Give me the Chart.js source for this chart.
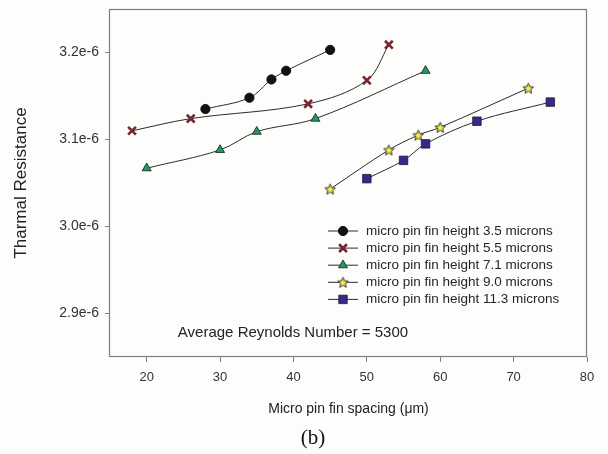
<!DOCTYPE html>
<html>
<head>
<meta charset="utf-8">
<script src="https://cdn.jsdelivr.net/npm/chart.js@4"></script>
<style>
  html, body { margin: 0; padding: 0; background: #fdfdfb; }
  #wrap { width: 608px; height: 454px; }
</style>
</head>
<body>
<div id="wrap"><canvas id="chart" width="608" height="454"></canvas></div>
<script>
// values (spacing in microns, resistance)
const spacing35 = [28, 34, 37, 39, 45];
const res35 = [3.135e-6, 3.148e-6, 3.169e-6, 3.179e-6, 3.203e-6];
const spacing55 = [18, 26, 42, 50, 53];
const res55 = [3.110e-6, 3.124e-6, 3.141e-6, 3.168e-6, 3.209e-6];
const spacing71 = [20, 30, 35, 43, 58];
const res71 = [3.067e-6, 3.088e-6, 3.109e-6, 3.124e-6, 3.179e-6];
const spacing90 = [45, 53, 57, 60, 72];
const res90 = [3.043e-6, 3.088e-6, 3.105e-6, 3.114e-6, 3.159e-6];
const spacing113 = [50, 55, 58, 65, 75];
const res113 = [3.055e-6, 3.076e-6, 3.095e-6, 3.121e-6, 3.143e-6];

const seriesLabels = [
  'micro pin fin height 3.5 microns',
  'micro pin fin height 5.5 microns',
  'micro pin fin height 7.1 microns',
  'micro pin fin height 9.0 microns',
  'micro pin fin height 11.3 microns'
];
const xTicks = [20, 30, 40, 50, 60, 70, 80];
const yTicks = [2.9e-6, 3.0e-6, 3.1e-6, 3.2e-6];
const yTickLabels = ['2.9e-6', '3.0e-6', '3.1e-6', '3.2e-6'];

function pts(xs, ys) {
  return xs.map((x, i) => ({x: x, y: ys[i]}));
}

// filled five point star, Chart.js has no such point style
function makeStar() {
  const c = document.createElement('canvas');
  c.width = 13; c.height = 13;
  const g = c.getContext('2d');
  g.beginPath();
  for (let i = 0; i < 10; i++) {
    const r = i % 2 === 0 ? 5.6 : 2.5;
    const a = -Math.PI / 2 + i * Math.PI / 5;
    const px = 6.5 + r * Math.cos(a), py = 7 + r * Math.sin(a);
    if (i === 0) g.moveTo(px, py); else g.lineTo(px, py);
  }
  g.closePath();
  g.fillStyle = '#f1ee4a';
  g.fill();
  g.strokeStyle = '#333';
  g.lineWidth = 1;
  g.stroke();
  return c;
}
const star = makeStar();

const lineCol = '#2b2b2b';
const frameCol = '#808080';

// frame, legend, note and caption
const extras = {
  id: 'extras',
  afterDraw(chart) {
    const ctx = chart.ctx;
    const a = chart.chartArea;
    ctx.save();
    ctx.strokeStyle = frameCol;
    ctx.lineWidth = 1.2;
    ctx.strokeRect(a.left - 0.5, a.top + 0.5, a.right - a.left, a.bottom - a.top - 1);

    // legend inside the plot
    const ds = chart.data.datasets;
    ctx.font = '13.5px "Liberation Sans", Arial, sans-serif';
    ctx.textBaseline = 'middle';
    ctx.textAlign = 'left';
    for (let i = 0; i < ds.length; i++) {
      const y = 231 + i * 17.1;
      ctx.strokeStyle = lineCol;
      ctx.lineWidth = 1;
      ctx.beginPath();
      ctx.moveTo(328, y); ctx.lineTo(358, y);
      ctx.stroke();
      ctx.fillStyle = ds[i].pointBackgroundColor;
      ctx.strokeStyle = ds[i].pointBorderColor;
      ctx.lineWidth = ds[i].pointBorderWidth;
      Chart.helpers.drawPoint(ctx, {
        pointStyle: ds[i].pointStyle, rotation: 0,
        radius: ds[i].pointRadius, borderWidth: ds[i].pointBorderWidth
      }, 343, y);
      ctx.fillStyle = '#262626';
      ctx.fillText(ds[i].label, 366, y);
    }

    ctx.fillStyle = '#222';
    ctx.font = '15px "Liberation Sans", Arial, sans-serif';
    ctx.textAlign = 'center';
    ctx.fillText('Average Reynolds Number = 5300', 293, 333);

    ctx.font = '21px "Liberation Serif", "Times New Roman", serif';
    ctx.fillStyle = '#111';
    ctx.fillText('(b)', 313, 438);
    ctx.restore();
  }
};

function ds(label, xs, ys, style, fill, border, radius, bw) {
  return {
    label: label,
    data: pts(xs, ys),
    showLine: true,
    borderColor: lineCol,
    borderWidth: 1,
    tension: 0.35,
    pointStyle: style,
    pointRadius: radius,
    pointHoverRadius: radius,
    pointBackgroundColor: fill,
    pointBorderColor: border,
    pointBorderWidth: bw,
    backgroundColor: fill
  };
}

const sets = [
  ds(seriesLabels[0], spacing35, res35, 'circle', '#111', '#111', 4.6, 1),
  ds(seriesLabels[1], spacing55, res55, 'crossRot', '#7a2430', '#7a2430', 5.5, 2.6),
  ds(seriesLabels[2], spacing71, res71, 'triangle', '#1f9b5d', '#1a1a1a', 5.2, 0.8),
  ds(seriesLabels[3], spacing90, res90, star, '#f1ee4a', '#333', 5, 1),
  ds(seriesLabels[4], spacing113, res113, 'rect', '#352a88', '#1a1a3a', 6, 0.8)
];

const ctx = document.getElementById('chart').getContext('2d');
const chart = new Chart(ctx, {
  type: 'scatter',
  data: { datasets: sets },
  options: {
    responsive: false,
    animation: false,
    devicePixelRatio: 1,
    layout: { padding: { top: 9, right: 21, left: 0, bottom: 0 } },
    plugins: {
      legend: { display: false },
      tooltip: { enabled: false }
    },
    scales: {
      x: {
        type: 'linear',
        min: 15,
        max: 80,
        afterBuildTicks: s => { s.ticks = xTicks.map(v => ({value: v})); },
        afterFit: s => { s.height = 97; s.paddingLeft = 0; s.paddingRight = 0; },
        grid: { drawOnChartArea: false, drawTicks: true, tickLength: 5, color: frameCol },
        border: { display: false },
        ticks: {
          padding: 8,
          color: '#333',
          font: { family: '"Liberation Sans", Arial, sans-serif', size: 13 },
          callback: v => String(v)
        },
        title: {
          display: true,
          text: 'Micro pin fin spacing (\u03bcm)',
          color: '#222',
          font: { family: '"Liberation Sans", Arial, sans-serif', size: 14 },
          padding: { top: 0, bottom: 36 }
        }
      },
      y: {
        type: 'linear',
        min: 2.85e-6,
        max: 3.25e-6,
        afterBuildTicks: s => { s.ticks = yTicks.map(v => ({value: v})); },
        afterFit: s => { s.width = 110; s.paddingTop = 0; s.paddingBottom = 0; },
        grid: { drawOnChartArea: false, drawTicks: true, tickLength: 5, color: frameCol },
        border: { display: false },
        ticks: {
          padding: 6,
          color: '#333',
          font: { family: '"Liberation Sans", Arial, sans-serif', size: 14 },
          callback: (v, i) => yTickLabels[i]
        },
        title: {
          display: true,
          text: 'Tharmal Resistance',
          color: '#222',
          font: { family: '"Liberation Sans", Arial, sans-serif', size: 17 },
          padding: { top: 11, bottom: 0 }
        }
      }
    }
  },
  plugins: [extras]
});
</script>
</body>
</html>
